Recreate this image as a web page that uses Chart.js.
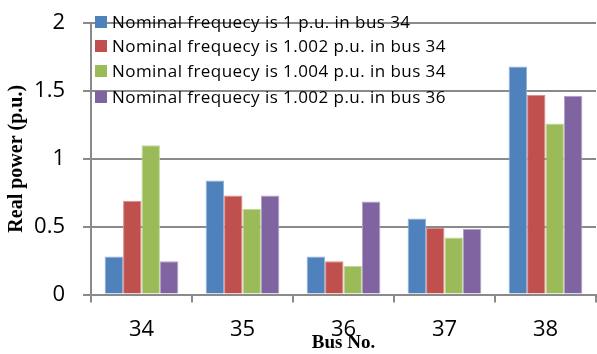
<!DOCTYPE html>
<html>
<head>
<meta charset="utf-8">
<script src="https://cdn.jsdelivr.net/npm/chart.js@4/dist/chart.umd.min.js"></script>
<style>
  html, body { margin: 0; padding: 0; background: #ffffff; }
  #wrap { width: 597px; height: 354px; position: relative; }
</style>
</head>
<body>
<div id="wrap"><canvas id="c" width="597" height="354"></canvas></div>
<script>
// Bus numbers along the x axis
const buses = ['34', '35', '36', '37', '38'];

// Real power (p.u.) at each bus for each operating case
const freq1At34 = [0.28, 0.84, 0.28, 0.56, 1.68];
const freq1002At34 = [0.69, 0.73, 0.245, 0.49, 1.47];
const freq1004At34 = [1.10, 0.63, 0.21, 0.42, 1.26];
const freq1002At36 = [0.245, 0.73, 0.685, 0.485, 1.465];

const seriesNames = [
  'Nominal frequecy is 1 p.u. in bus 34',
  'Nominal frequecy is 1.002 p.u. in bus 34',
  'Nominal frequecy is 1.004 p.u. in bus 34',
  'Nominal frequecy is 1.002 p.u. in bus 36'
];

// Y axis ticks
const yTicks = [0, 0.5, 1, 1.5, 2];

const fills = ['#4F81BD', '#C0504D', '#9BBB59', '#8064A2'];
const edges = ['#8fb0d8', '#d98e8c', '#c2d69b', '#b2a1c7'];
const seriesValues = [freq1At34, freq1002At34, freq1004At34, freq1002At36];

// Legend drawn inside the plot area, top-left
const innerLegend = {
  id: 'innerLegend',
  afterDraw(chart) {
    const ctx = chart.ctx;
    ctx.save();
    ctx.font = '17px "Open Sans"';
    ctx.letterSpacing = '0.45px';
    ctx.textBaseline = 'middle';
    ctx.textAlign = 'left';
    const x0 = chart.chartArea.left + 4;
    const rows = [22, 46, 71, 97];
    chart.data.datasets.forEach((ds, i) => {
      const y = rows[i];
      ctx.fillStyle = ds.backgroundColor;
      ctx.fillRect(x0, y - 6, 12, 12);
      ctx.fillStyle = '#000000';
      ctx.fillText(ds.label, x0 + 17, y + 1);
    });
    ctx.restore();
  }
};

new Chart(document.getElementById('c'), {
  type: 'bar',
  data: {
    labels: buses,
    datasets: seriesValues.map((vals, i) => ({
      label: seriesNames[i],
      data: vals,
      backgroundColor: fills[i],
      borderColor: edges[i],
      borderWidth: 1,
      categoryPercentage: 0.73,
      barPercentage: 1.0
    }))
  },
  options: {
    responsive: false,
    animation: false,
    devicePixelRatio: 1,
    layout: { padding: { top: 23, right: 1, left: 0, bottom: 0 } },
    plugins: {
      legend: { display: false },
      tooltip: { enabled: false }
    },
    scales: {
      x: {
        offset: true,
        afterFit(s) { s.height = 59.5; s.paddingLeft = 0; s.paddingRight = 0; },
        grid: {
          offset: true,
          drawOnChartArea: false,
          drawTicks: true,
          tickLength: 8,
          color: '#8a8a8a',
          lineWidth: 2
        },
        border: { color: '#8a8a8a', width: 2 },
        ticks: {
          color: '#000000',
          font: { family: '"Open Sans"', size: 22 },
          padding: 14
        },
        title: {
          display: true,
          text: 'Bus No.',
          color: '#000000',
          font: { family: '"Liberation Serif"', size: 19, weight: 'bold' },
          padding: { top: -8, bottom: 0 }
        }
      },
      y: {
        min: 0,
        max: 2,
        afterFit(s) { s.width = 91; s.paddingTop = 0; s.paddingBottom = 0; },
        afterBuildTicks(s) { s.ticks = yTicks.map(v => ({ value: v })); },
        grid: {
          color: '#8a8a8a',
          lineWidth: 2,
          tickLength: 8
        },
        border: { color: '#8a8a8a', width: 2 },
        ticks: {
          color: '#000000',
          font: { family: '"Open Sans"', size: 22 },
          padding: 18,
          callback: v => String(v)
        },
        title: {
          display: true,
          text: 'Real power (p.u.)',
          color: '#000000',
          font: { family: '"Liberation Serif"', size: 20, weight: 'bold' },
          padding: { top: 5, bottom: 0 }
        }
      }
    }
  },
  plugins: [innerLegend]
});
</script>
</body>
</html>
